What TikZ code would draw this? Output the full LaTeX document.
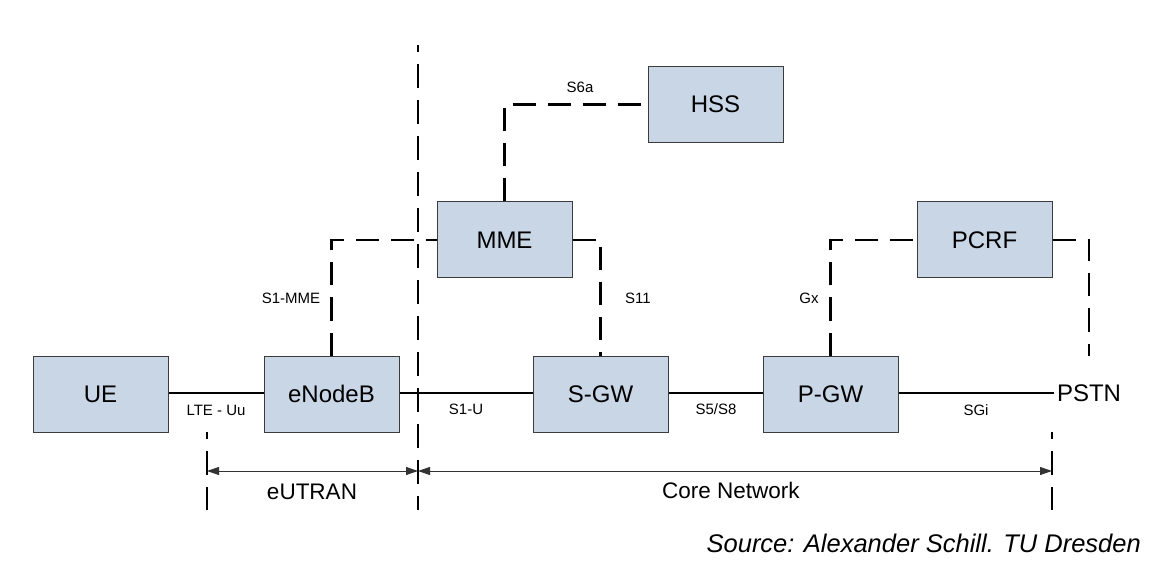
\documentclass[tikz,border=0pt]{standalone}
\usepackage{fontspec}
\setmainfont{Liberation Sans}
\usetikzlibrary{arrows.meta}
\definecolor{boxfill}{RGB}{200,214,230}
\definecolor{boxline}{RGB}{60,60,60}
\begin{document}
\begin{tikzpicture}[x=1pt,y=-1pt,
  netbox/.style={draw=boxline,line width=1pt,fill=boxfill,minimum width=135pt,minimum height=76pt,inner sep=0pt,font=\fontsize{24}{28}\selectfont},
  link/.style={line width=2pt,black},
  ctrl/.style={line width=2.8pt,black,dash pattern=on 23pt off 12pt},
  divider/.style={line width=2.4pt,black,dash pattern=on 24pt off 12pt,dash phase=17pt},
  lbl/.style={font=\fontsize{15}{18}\selectfont,inner sep=0pt},
  big/.style={font=\fontsize{22.5}{26}\selectfont,inner sep=0pt},
  dim/.style={line width=1pt,black!80,{Triangle[length=12pt,width=8pt]}-{Triangle[length=12pt,width=8pt]}}
]
\useasboundingbox (0,0) rectangle (1152,572);
% boxes
\node[netbox] (UE) at (100.5,394) {UE};
\node[netbox] (ENB) at (331.5,394) {eNodeB};
\node[netbox] (SGW) at (600.5,394) {S-GW};
\node[netbox] (PGW) at (830.5,394) {P-GW};
\node[netbox] (MME) at (504.5,240) {MME};
\node[netbox] (HSS) at (715.5,104.5) {HSS};
\node[netbox] (PCRF) at (984.5,240) {PCRF};
\node[font=\fontsize{24}{28}\selectfont,inner xsep=3pt,inner ysep=0pt,minimum height=74pt] (PSTN) at (1089,393) {PSTN};
% user plane
\draw[link] (UE.east |- 0,393) -- (ENB.west |- 0,393);
\draw[link] (ENB.east |- 0,393) -- (SGW.west |- 0,393);
\draw[link] (SGW.east |- 0,393) -- (PGW.west |- 0,393);
\draw[link] (PGW.east |- 0,393) -- (PSTN.west);
% control plane
\draw[ctrl] (ENB.north) |- (MME.west);
\draw[ctrl] (MME.north) |- (HSS.west);
\draw[ctrl] (MME.east) -| (SGW.north);
\draw[ctrl] (PGW.north) |- (PCRF.west);
\draw[ctrl] (PCRF.east) -| (PSTN.north);
% dividers
\coordinate (d1t) at (207,432); \coordinate (d1b) at (207,510);
\coordinate (d2t) at (418,45);  \coordinate (d2b) at (418,510);
\coordinate (d3t) at (1052,432); \coordinate (d3b) at (1052,510);
\draw[divider] (d1t) -- (d1b);
\draw[divider] (d2t) -- (d2b);
\draw[divider] (d3t) -- (d3b);
% dimension arrows
\coordinate (a1) at (207,471); \coordinate (a2) at (418,471); \coordinate (a3) at (1052,471);
\draw[dim] (a1) -- (a2);
\draw[dim] (a2) -- (a3);
% labels
\node[lbl] (lLTE) at (216,410) {LTE - Uu};
\node[lbl] (lS1U) at (466,409) {S1-U};
\node[lbl] (lS5) at (716,409) {S5/S8};
\node[lbl] (lSGi) at (976,410) {SGi};
\node[lbl] (lS1MME) at (291,298) {S1-MME};
\node[lbl] (lS11) at (638,298) {S11};
\node[lbl] (lGx) at (809,298) {Gx};
\node[lbl] (lS6a) at (580,87) {S6a};
\node[big] (lEUT) at (312,492) {eUTRAN};
\node[big] (lCore) at (731,490) {Core Network};
\node[font=\fontsize{25.5}{30}\selectfont\itshape,inner sep=0pt,anchor=east] (src) at (1141,543) {Source: Alexander Schill. TU Dresden};
\end{tikzpicture}
\end{document}
